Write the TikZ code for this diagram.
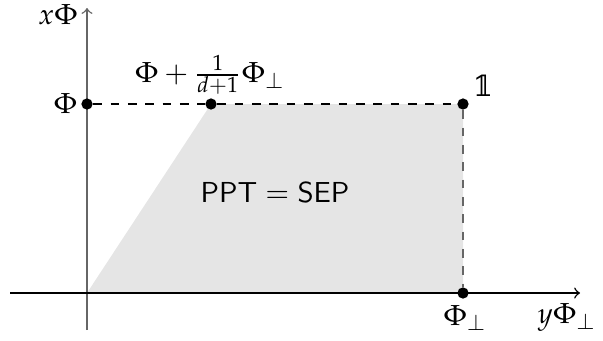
\documentclass[tikz,border=0pt]{standalone}
\usepackage{mathpazo}
\usepackage{fontspec}
\newfontfamily\dvserif{DejaVu Serif}
\begin{document}
\begin{tikzpicture}[x=0.346pt,y=-0.346pt,
  dot/.style={circle,fill=black,inner sep=0pt,minimum size=3.9pt},
  lbl/.style={inner sep=1pt},
  guide/.style={dashed,line width=0.4pt},
  axis/.style={line width=0.5pt,-to}]
  \useasboundingbox (0,0) rectangle (603,340);
  % region of separable states
  \fill[black!10] (87,293) -- (211,104) -- (463,104) -- (463,293) -- cycle;
  % axes
  \coordinate (xl) at (10,293);
  \coordinate (xr) at (580,293);
  \coordinate (yb) at (87,330);
  \coordinate (yt) at (87,8);
  \draw[axis,black!60] (yb) -- (yt);
  \draw[axis] (xl) -- (xr);
  % corner points
  \node[dot] (phi) at (87,104) {};
  \node[dot] (mid) at (211,104) {};
  \node[dot] (one) at (463,104) {};
  \node[dot] (perp) at (463,293) {};
  \draw[guide] (phi) -- (mid) -- (one);
  \draw[guide,black!60] (one) -- (perp);
  % labels
  \node[lbl,left] (lphi) at (phi.west) {$\Phi$};
  \node[lbl] (lmid) at (210,75) {$\Phi+\frac{1}{d+1}\Phi_\perp$};
  \node[lbl] (lone) at (483,86) {\dvserif 𝟙};
  \node[lbl] (lperp) at (465,318) {$\Phi_\perp$};
  \node[lbl] (lx) at (58,15) {$x\Phi$};
  \node[lbl] (ly) at (567,318) {$y\Phi_\perp$};
  \node[lbl] (region) at (275,192) {$\mathsf{PPT}=\mathsf{SEP}$};
\end{tikzpicture}
\end{document}
